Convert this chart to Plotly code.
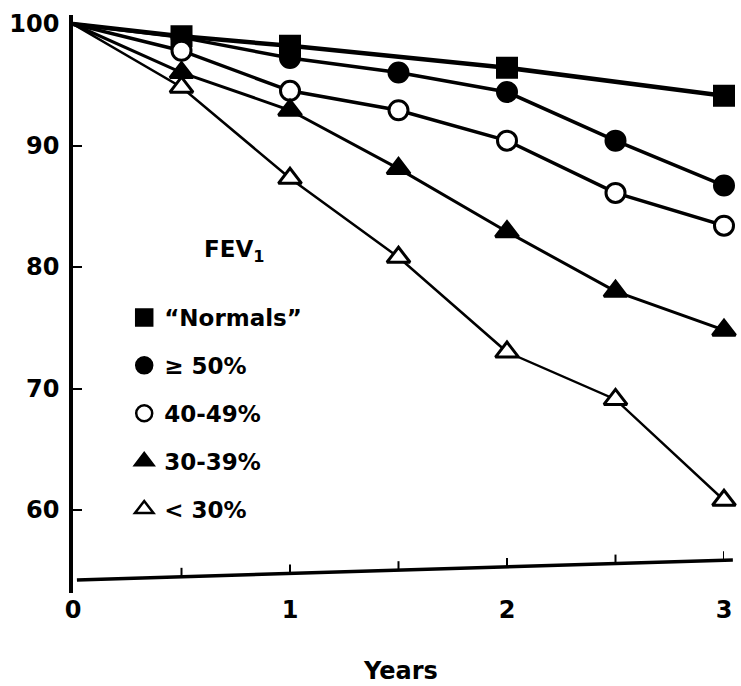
import plotly.graph_objects as go

# ---- data ----
years_all = [0, 0.5, 1, 1.5, 2, 2.5, 3]
years_normals = [0, 0.5, 1, 2, 3]

normals = [100, 99.0, 98.2, 96.4, 94.1]
ge50 = [100, 98.9, 97.2, 96.0, 94.4, 90.4, 86.7]
p40_49 = [100, 97.8, 94.5, 92.9, 90.4, 86.1, 83.4]
p30_39 = [100, 96.0, 92.9, 88.1, 82.9, 78.0, 74.8]
lt30 = [100, 94.8, 87.3, 80.8, 73.0, 69.1, 60.8]

labels = ["\u201cNormals\u201d", "\u2265 50%", "40-49%", "30-39%", "< 30%"]
y_ticks = [60, 70, 80, 90, 100]
x_ticks = [0, 1, 2, 3]
x_minor_ticks = [0.5, 1, 1.5, 2, 2.5, 3]

series = [
    (years_normals, normals, labels[0], "square", "black", 4.5),
    (years_all, ge50, labels[1], "circle", "black", 3.5),
    (years_all, p40_49, labels[2], "circle", "white", 3.5),
    (years_all, p30_39, labels[3], "triangle-up", "black", 3),
    (years_all, lt30, labels[4], "triangle-up", "white", 2.5),
]

FONT = "DejaVu Sans, Liberation Sans, Arial, sans-serif"

fig = go.Figure()
# connecting lines (all points, starting at the common origin)
for xs, ys, name, sym, fill, lw in series:
    fig.add_trace(go.Scatter(
        x=xs, y=ys, mode="lines", name=name, showlegend=False,
        line=dict(color="black", width=lw), hoverinfo="skip",
    ))
# markers (the common origin has no marker in the original)
for i, (xs, ys, name, sym, fill, lw) in enumerate(series):
    fig.add_trace(go.Scatter(
        x=xs[1:], y=ys[1:], mode="markers", name=name, showlegend=False,
        marker=dict(symbol=sym, size=20 if sym == "triangle-up" else 19,
                    color=fill, opacity=1,
                    line=dict(color="black", width=3)),
        cliponaxis=False,
    ))
# legend entries (markers only)
for i, (xs, ys, name, sym, fill, lw) in enumerate(series):
    fig.add_trace(go.Scatter(
        x=[None], y=[None], mode="markers", name=name, legendgroup=f"g{i}",
        marker=dict(symbol=sym, size=16, color=fill,
                    line=dict(color="black", width=2.5)),
    ))

font_main = dict(family=FONT, size=24, color="black", weight=700)

# plot area: x 71..732 px, y 15..593 px
PLOT_H = 578.0
base_y0 = (593 - 580) / PLOT_H   # slanted baseline, left end (paper)
base_y1 = (593 - 560) / PLOT_H   # right end (paper)
bx0 = (75 - 71) / 661
bx1 = (741 - 71) / 661

shapes = [
    dict(type="line", xref="paper", yref="paper",
         x0=bx0, y0=base_y0, x1=bx1, y1=base_y1,
         line=dict(color="black", width=3.5)),
]
# small upward ticks sitting on the slanted baseline
for t in x_minor_ticks:
    fx = t / 3.0
    fy = base_y0 + (base_y1 - base_y0) * (fx - bx0) / (bx1 - bx0)
    shapes.append(dict(type="line", xref="x", yref="paper",
                       x0=t, x1=t, y0=fy, y1=fy + 9 / PLOT_H,
                       line=dict(color="black", width=2)))

fig.update_layout(
    width=741, height=686,
    margin=dict(l=71, r=9, t=15, b=93),
    paper_bgcolor="white", plot_bgcolor="white",
    showlegend=True,
    legend=dict(
        x=(123 - 71) / 661, y=(593 - 296) / PLOT_H, xanchor="left",
        yanchor="top", bgcolor="rgba(0,0,0,0)", borderwidth=0,
        font=dict(family=FONT, size=23, color="black", weight=700),
        tracegroupgap=15, itemwidth=30,
    ),
    xaxis=dict(
        range=[0, 3], tickvals=x_ticks, ticktext=[str(t) for t in x_ticks],
        showgrid=False, zeroline=False, showline=False, ticks="",
        tickfont=font_main, ticklabelstandoff=0,
    ),
    yaxis=dict(
        range=[53.17, 100.74], tickvals=y_ticks,
        showgrid=False, zeroline=False, showline=True,
        linecolor="black", linewidth=3.5, ticks="inside", ticklen=9,
        tickwidth=2, tickcolor="black", tickfont=font_main,
        ticklabelstandoff=5,
    ),
    shapes=shapes,
    annotations=[
        dict(text="FEV<sub>1</sub>", xref="paper", yref="paper",
             x=(202 - 71) / 661, y=(593 - 251) / PLOT_H, xanchor="left",
             yanchor="middle", showarrow=False,
             font=dict(family=FONT, size=23, color="black", weight=700)),
        dict(text="Years", xref="paper", yref="paper",
             x=(404 - 71) / 661, y=(593 - 671) / PLOT_H, xanchor="center",
             yanchor="middle", showarrow=False, font=font_main),
    ],
)

fig.write_html("out.html")
